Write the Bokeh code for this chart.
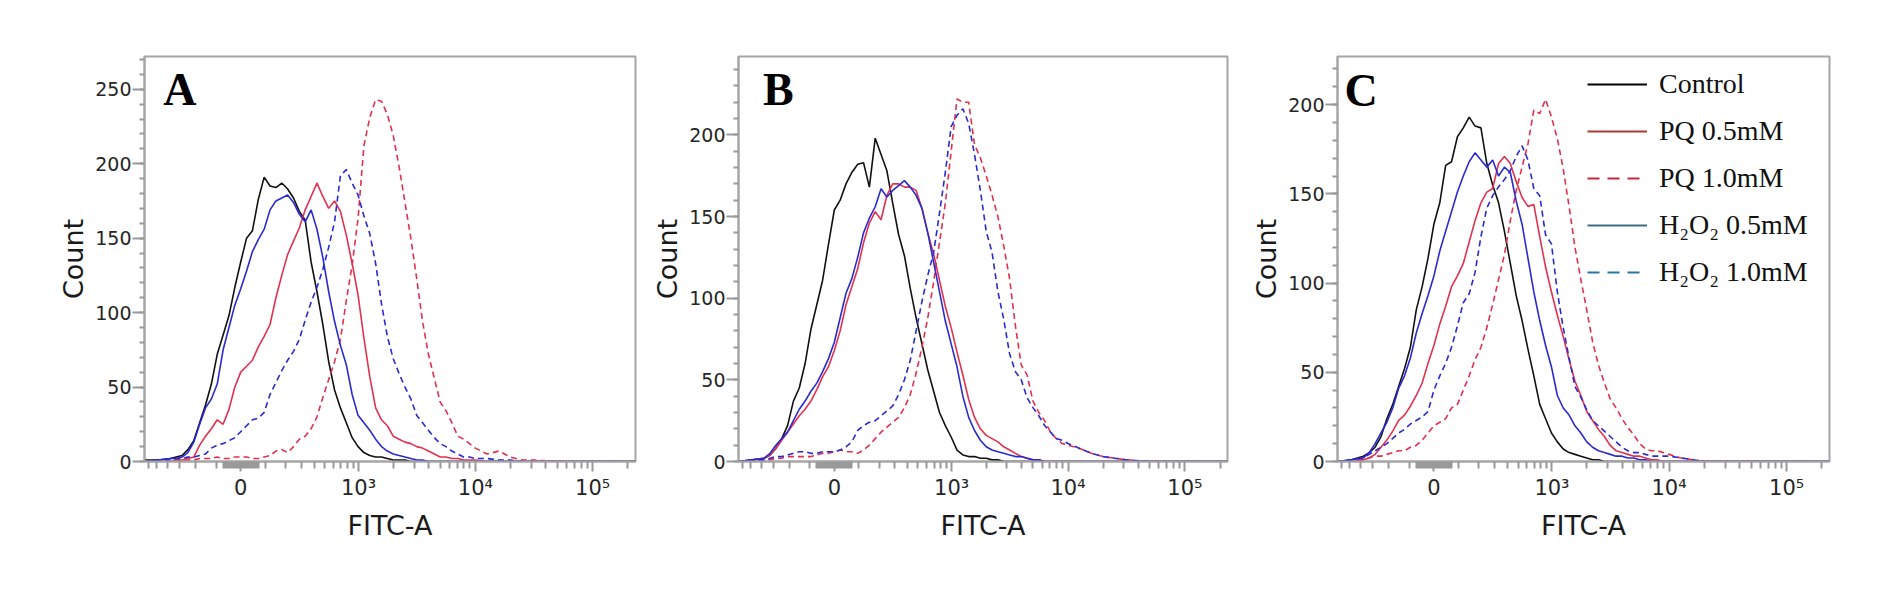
import numpy as np
from bokeh.plotting import figure
from bokeh.models import (Range1d, FixedTicker, SingleIntervalTicker, CustomJSTickFormatter,
                          Label, Legend, LegendItem)
from bokeh.layouts import row
from bokeh.embed import file_html
from bokeh.resources import INLINE

# ---------------- data ----------------
# histogram bin centres on the biexponential FITC-A display scale (1 unit = 1 decade)
bin_pos = [-0.82, -0.70, -0.60, -0.55, -0.50, -0.45, -0.40, -0.35, -0.30, -0.25,
           -0.20, -0.15, -0.10, -0.05, 0.00, 0.05, 0.10, 0.15, 0.20, 0.25,
           0.30, 0.35, 0.40, 0.45, 0.50, 0.55, 0.60, 0.65, 0.70, 0.75,
           0.80, 0.85, 0.90, 0.95, 1.00, 1.05, 1.10, 1.15, 1.20, 1.25,
           1.30, 1.35, 1.40, 1.45, 1.50, 1.55, 1.60, 1.65, 1.70, 1.75,
           1.80, 1.85, 1.90, 1.95, 2.00, 2.10, 2.20, 2.30, 2.40, 2.50,
           2.70, 3.00, 3.365]

series_names = ["Control", "PQ 0.5mM", "PQ 1.0mM", "H\u2082O\u2082 0.5mM", "H\u2082O\u2082 1.0mM"]

# Panel A counts
A_control = [1, 1, 2, 3, 4, 8, 14, 26, 38, 52,
             72, 85, 98, 117, 134, 150, 155, 176, 191, 185,
             184, 187, 183, 177, 168, 162, 134, 114, 92, 67,
             48, 36, 26, 16, 10, 6, 4, 3, 3, 2,
             1, 1, 1, 0, 0, 0, 0, 0, 0, 0,
             0, 0, 0, 0, 0, 0, 0, 0, 0, 0,
             0, 0, 0]
A_pq05 = [0, 0, 0, 1, 1, 2, 3, 11, 17, 22,
          28, 25, 35, 50, 60, 64, 68, 77, 84, 92,
          110, 125, 139, 148, 157, 169, 178, 187, 178, 170,
          175, 168, 152, 133, 112, 83, 57, 36, 28, 24,
          17, 15, 13, 12, 10, 9, 7, 5, 3, 3,
          2, 2, 1, 1, 1, 0, 0, 0, 0, 0,
          0, 0, 0]
A_pq10 = [0, 0, 0, 1, 1, 1, 1, 2, 2, 2,
          3, 2, 2, 3, 3, 3, 2, 2, 3, 4,
          7, 8, 6, 10, 15, 17, 22, 30, 43, 55,
          67, 82, 108, 132, 163, 212, 231, 243, 242, 233,
          219, 198, 174, 150, 123, 94, 72, 56, 40, 34,
          26, 17, 15, 12, 9, 5, 7, 3, 1, 1,
          0, 0, 0]
A_h2o2_05 = [0, 1, 2, 2, 3, 6, 13, 25, 36, 42,
             52, 75, 90, 105, 116, 128, 141, 149, 156, 169,
             175, 177, 179, 174, 166, 161, 169, 156, 137, 114,
             94, 78, 65, 45, 31, 26, 21, 15, 10, 7,
             5, 4, 3, 2, 1, 1, 0, 0, 0, 0,
             0, 0, 0, 0, 0, 0, 0, 0, 0, 0,
             0, 0, 0]
A_h2o2_10 = [0, 1, 1, 2, 2, 3, 3, 4, 5, 9,
             11, 12, 14, 16, 20, 24, 28, 29, 33, 45,
             53, 61, 68, 74, 82, 95, 107, 117, 129, 144,
             161, 192, 196, 187, 179, 165, 153, 133, 106, 84,
             69, 59, 50, 42, 31, 26, 21, 16, 12, 10,
             7, 5, 3, 3, 2, 2, 1, 1, 0, 0,
             0, 0, 0]

# Panel B counts
B_control = [0, 1, 2, 4, 8, 14, 22, 37, 45, 60,
             81, 96, 111, 133, 154, 160, 170, 177, 182, 183,
             168, 198, 188, 178, 158, 139, 126, 106, 88, 72,
             56, 43, 30, 22, 15, 7, 4, 3, 3, 2,
             2, 1, 1, 0, 0, 0, 0, 0, 0, 0,
             0, 0, 0, 0, 0, 0, 0, 0, 0, 0,
             0, 0, 0]
B_pq05 = [0, 1, 2, 4, 8, 13, 18, 23, 28, 32,
          37, 44, 52, 58, 68, 80, 96, 107, 118, 134,
          146, 153, 148, 163, 170, 170, 168, 168, 166, 155,
          140, 127, 111, 95, 82, 67, 53, 38, 27, 20,
          16, 14, 12, 9, 7, 5, 3, 2, 1, 1,
          0, 0, 0, 0, 0, 0, 0, 0, 0, 0,
          0, 0, 0]
B_pq10 = [0, 0, 1, 1, 2, 2, 3, 3, 3, 3,
          3, 4, 5, 5, 6, 7, 6, 6, 5, 7,
          10, 14, 18, 21, 24, 27, 33, 41, 54, 70,
          88, 110, 134, 158, 190, 222, 220, 220, 194, 186,
          175, 163, 150, 132, 112, 83, 59, 53, 37, 30,
          25, 18, 14, 11, 10, 8, 5, 3, 2, 1,
          0, 0, 0]
B_h2o2_05 = [0, 1, 2, 5, 10, 14, 18, 25, 32, 37,
             43, 48, 55, 63, 73, 88, 103, 112, 125, 140,
             149, 156, 167, 162, 166, 169, 172, 168, 163, 155,
             140, 122, 104, 86, 72, 58, 40, 27, 19, 13,
             9, 7, 6, 5, 4, 3, 3, 2, 1, 1,
             0, 0, 0, 0, 0, 0, 0, 0, 0, 0,
             0, 0, 0]
B_h2o2_10 = [0, 1, 1, 2, 3, 3, 4, 5, 6, 6,
             5, 5, 6, 6, 6, 7, 9, 12, 19, 22,
             24, 25, 28, 31, 34, 41, 50, 62, 80, 98,
             114, 128, 152, 177, 205, 212, 216, 207, 188, 166,
             141, 128, 104, 87, 66, 55, 50, 39, 33, 28,
             22, 18, 14, 13, 11, 8, 5, 3, 2, 1,
             0, 0, 0]

# Panel C counts
C_control = [0, 1, 3, 5, 8, 14, 24, 32, 42, 52,
             64, 85, 98, 114, 133, 145, 166, 168, 182, 187,
             193, 188, 187, 167, 155, 145, 129, 111, 93, 79,
             63, 48, 32, 24, 16, 11, 7, 5, 4, 3,
             2, 1, 1, 0, 0, 0, 0, 0, 0, 0,
             0, 0, 0, 0, 0, 0, 0, 0, 0, 0,
             0, 0, 0]
C_pq05 = [0, 0, 1, 2, 4, 8, 12, 17, 23, 26,
          31, 37, 44, 55, 65, 77, 87, 98, 104, 111,
          123, 135, 145, 151, 153, 167, 171, 167, 157, 148,
          143, 144, 126, 109, 95, 82, 70, 57, 45, 37,
          28, 23, 18, 14, 9, 6, 5, 4, 3, 3,
          2, 1, 1, 0, 0, 0, 0, 0, 0, 0,
          0, 0, 0]
C_pq10 = [0, 0, 1, 2, 3, 3, 4, 5, 6, 6,
          8, 9, 12, 16, 20, 22, 24, 30, 32, 40,
          48, 57, 64, 75, 88, 102, 116, 135, 152, 165,
          178, 197, 195, 203, 193, 181, 164, 143, 120, 102,
          85, 67, 54, 44, 35, 30, 24, 19, 15, 10,
          7, 6, 6, 5, 4, 2, 1, 0, 0, 0,
          0, 0, 0]
C_h2o2_05 = [0, 1, 2, 5, 10, 16, 22, 30, 41, 48,
             58, 72, 83, 93, 104, 118, 129, 140, 151, 160,
             168, 173, 169, 165, 169, 160, 165, 162, 146, 133,
             114, 95, 79, 65, 53, 37, 30, 26, 20, 16,
             11, 8, 6, 5, 4, 3, 3, 2, 2, 1,
             1, 0, 0, 0, 0, 0, 0, 0, 0, 0,
             0, 0, 0]
C_h2o2_10 = [0, 1, 2, 4, 6, 8, 10, 13, 16, 18,
             21, 23, 25, 28, 40, 48, 55, 64, 76, 89,
             94, 106, 126, 142, 149, 154, 158, 163, 171, 177,
             169, 153, 149, 127, 122, 95, 75, 58, 42, 36,
             29, 23, 20, 17, 14, 11, 8, 6, 5, 5,
             4, 3, 3, 3, 3, 2, 1, 0, 0, 0,
             0, 0, 0]

panel_letters = ["A", "B", "C"]
count_max = [272, 248, 227]

# FITC-A axis ticks (intensity values) and their labels
major_vals = [0, 1e3, 1e4, 1e5]
major_labels = ["0", "10\u00b3", "10\u2074", "10\u2075"]
minor_vals = [-600, -500, -400, -300, -200, -100,
              100, 200, 300, 400, 500, 600, 700, 800, 900,
              2000, 3000, 4000, 5000, 6000, 7000, 8000, 9000,
              20000, 30000, 40000, 50000, 60000, 70000, 80000, 90000,
              200000]
# linear-region band under the axis (-70 .. 70), drawn as a dense run of short ticks
band_vals = list(range(-70, 71, 4))


def biex(v):
    """biexponential (arcsinh) display transform of FITC-A intensity"""
    return np.arcsinh(np.asarray(v, dtype=float) / 200.0) / np.log(10.0)


# ---------------- styling ----------------
RED = "#e2314f"
BLUE = "#2a2ad4"
BLACK = "#111111"
curve_styles = [  # (color, dash) per series
    (BLACK, "solid"), (RED, "solid"), (RED, "6 4"), (BLUE, "solid"), (BLUE, "6 4")]
legend_styles = [("#000000", "solid"), ("#a83a3a", "solid"), ("#c22a3c", "12 8"),
                 ("#3b6e86", "solid"), ("#2a74a8", "12 8")]
AXIS_GRAY = "#a6a6a6"
TICK_GRAY = "#999999"
X_RANGE = (-0.82, 3.365)

panel_data = [
    [A_control, A_pq05, A_pq10, A_h2o2_05, A_h2o2_10],
    [B_control, B_pq05, B_pq10, B_h2o2_05, B_h2o2_10],
    [C_control, C_pq05, C_pq10, C_h2o2_05, C_h2o2_10],
]
letter_pos = [(-0.66, 250), (-0.61, 228), (-0.76, 208)]
borders = [(144, 10), (93, 13), (97, 33)]  # (left, right)
FRAME_W = [491, 489, 492]
TOP, FRAME_H, FIG_H = 56, 405, 575

major_pos = [float(t) for t in biex(major_vals)]
minor_pos = [float(t) for t in biex(minor_vals)] + [float(t) for t in biex(band_vals)]

figs = []
for i in range(3):
    bl, br = borders[i]
    p = figure(width=bl + FRAME_W[i] + br, height=FIG_H, output_backend="svg",
               toolbar_location=None, x_range=Range1d(*X_RANGE),
               y_range=Range1d(0, count_max[i]),
               min_border_left=bl, min_border_right=br,
               min_border_top=TOP, min_border_bottom=FIG_H - TOP - FRAME_H)
    p.background_fill_color = "white"
    p.border_fill_color = "white"
    p.outline_line_color = AXIS_GRAY
    p.outline_line_width = 2
    p.xgrid.visible = False
    p.ygrid.visible = False

    # x axis (biexponential)
    xa = p.xaxis[0]
    xa.ticker = FixedTicker(ticks=major_pos, minor_ticks=minor_pos)
    xa.formatter = CustomJSTickFormatter(
        args=dict(pos=major_pos, labels=major_labels),
        code="""
        let best = 0, bd = 1e9;
        for (let k = 0; k < pos.length; k++) {
            const d = Math.abs(pos[k] - tick);
            if (d < bd) { bd = d; best = k; }
        }
        return labels[best];
        """)
    xa.axis_label = "FITC-A"
    xa.axis_label_text_font = "DejaVu Sans"
    xa.axis_label_text_font_size = "27px"
    xa.axis_label_text_font_style = "normal"
    xa.axis_label_text_color = "#1a1a1a"
    xa.axis_label_standoff = 7
    xa.major_label_text_font = "DejaVu Sans"
    xa.major_label_text_font_size = "21px"
    xa.major_label_text_color = "#262626"
    xa.major_label_standoff = 4
    xa.axis_line_color = AXIS_GRAY
    xa.axis_line_width = 2
    xa.major_tick_line_color = TICK_GRAY
    xa.minor_tick_line_color = TICK_GRAY
    xa.major_tick_line_width = 2
    xa.minor_tick_line_width = 2
    xa.major_tick_in = 0
    xa.major_tick_out = 10
    xa.minor_tick_in = 0
    xa.minor_tick_out = 7

    # y axis (counts)
    ya = p.yaxis[0]
    ya.ticker = SingleIntervalTicker(interval=50, num_minor_ticks=5)
    ya.axis_label = "Count"
    ya.axis_label_text_font = "DejaVu Sans"
    ya.axis_label_text_font_size = "27px"
    ya.axis_label_text_font_style = "normal"
    ya.axis_label_text_color = "#1a1a1a"
    ya.axis_label_standoff = 3
    ya.major_label_text_font = "DejaVu Sans"
    ya.major_label_text_font_size = "19px"
    ya.major_label_text_color = "#262626"
    ya.major_label_standoff = 1
    ya.axis_line_color = AXIS_GRAY
    ya.axis_line_width = 2
    ya.major_tick_line_color = TICK_GRAY
    ya.minor_tick_line_color = TICK_GRAY
    ya.major_tick_line_width = 2
    ya.minor_tick_line_width = 2
    ya.major_tick_in = 0
    ya.major_tick_out = 12
    ya.minor_tick_in = 0
    ya.minor_tick_out = 5

    # histograms
    for vals, (col, dash) in zip(panel_data[i], curve_styles):
        p.line(bin_pos, vals, line_color=col, line_width=1.6, line_dash=dash)

    lx, ly = letter_pos[i]
    p.add_layout(Label(x=lx, y=ly, text=panel_letters[i], text_font="Liberation Serif",
                       text_font_style="bold", text_font_size="46px", text_color="black",
                       text_baseline="alphabetic"))

    if i == 2:
        items = []
        for name, (col, dash) in zip(series_names, legend_styles):
            # legend swatch renderers, kept outside the visible range
            r = p.line(x=[-5, -4], y=[-50, -50], line_color=col, line_width=2, line_dash=dash)
            items.append(LegendItem(label=name, renderers=[r]))
        leg = Legend(items=items, location=(250, 173), orientation="vertical",
                     label_text_font="Liberation Serif", label_text_font_size="28px",
                     label_text_color="#111111",
                     glyph_width=60, glyph_height=20, label_standoff=12,
                     spacing=15, padding=10, margin=0,
                     border_line_color=None, background_fill_alpha=0.0)
        p.add_layout(leg)
    figs.append(p)

layout = row(*figs)
open("out.html", "w").write(file_html(layout, INLINE))
